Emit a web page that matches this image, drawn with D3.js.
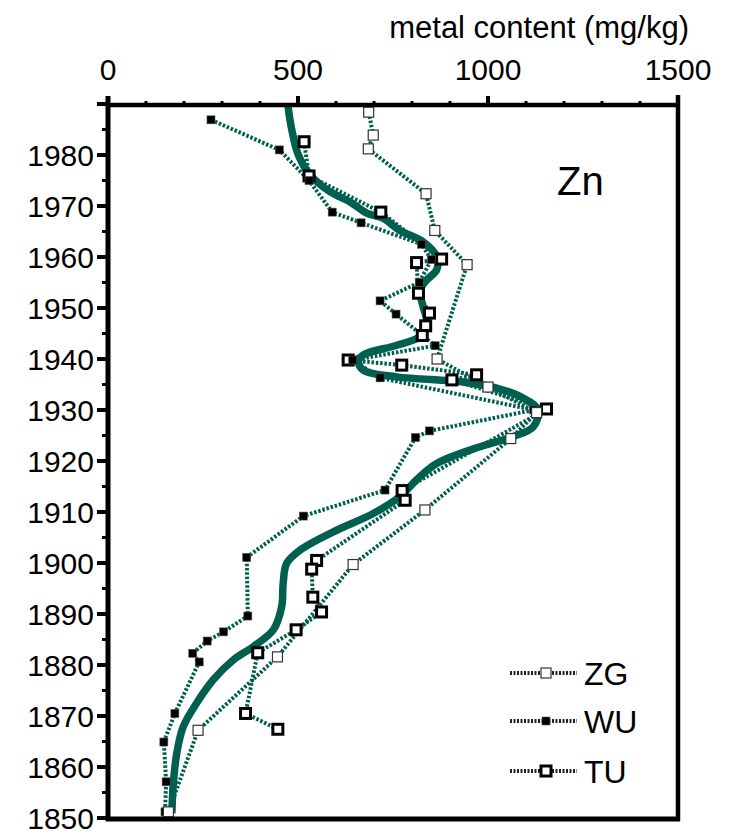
<!DOCTYPE html>
<html><head><meta charset="utf-8">
<script src="https://cdn.jsdelivr.net/npm/d3@7"></script>
<style>body{margin:0;background:#fff;} text{font-family:"Liberation Sans",Arial,Helvetica,sans-serif;fill:#000;}</style>
</head><body>
<svg id="chart" width="734" height="831"></svg>
<script>
// ---- data ----
const xTicks = [0, 500, 1000, 1500];
const yTicks = [1850, 1860, 1870, 1880, 1890, 1900, 1910, 1920, 1930, 1940, 1950, 1960, 1970, 1980];
const seriesNames = ["ZG", "WU", "TU"];

const zgYear = [1988.4, 1983.9, 1981.2, 1972.4, 1965.2, 1958.5, 1940.0, 1934.5, 1929.5, 1924.4, 1910.4, 1899.7, 1881.6, 1867.2, 1851.2];
const zgVal  = [686, 698, 685, 837, 860, 945, 866, 1000, 1128, 1060, 834, 645, 446, 237, 159];

const wuYear = [1986.9, 1981.0, 1975.0, 1968.8, 1966.7, 1962.5, 1959.5, 1955.0, 1951.4, 1948.8, 1942.6, 1939.8, 1936.3, 1930.0, 1925.9, 1924.6, 1914.3, 1909.2, 1901.1, 1889.6, 1886.5, 1884.7, 1882.3, 1880.6, 1870.5, 1864.9, 1857.1, 1851.2];
const wuVal  = [271, 451, 529, 590, 666, 825, 851, 819, 716, 758, 861, 644, 716, 1120, 846, 809, 729, 514, 365, 368, 304, 261, 223, 240, 176, 147, 153, 150];

const tuYear = [1982.6, 1975.9, 1968.8, 1959.6, 1958.9, 1952.9, 1949.0, 1946.5, 1944.6, 1939.8, 1938.8, 1936.9, 1935.9, 1930.2, 1914.2, 1912.3, 1900.5, 1898.8, 1893.3, 1890.4, 1886.9, 1882.4, 1870.5, 1867.4];
const tuVal  = [516, 529, 718, 878, 812, 817, 846, 836, 827, 632, 773, 970, 905, 1154, 774, 782, 549, 536, 539, 562, 495, 394, 362, 447];

const meanYear = [1990, 1985.2, 1980.0, 1976.1, 1972.8, 1970.8, 1968.6, 1967.6, 1965.2, 1963.0, 1960.1, 1957.5, 1955.5, 1953.5, 1950.3, 1947.1, 1944.4, 1942.7, 1940.8, 1939.5, 1937.8, 1936.5, 1935.5, 1934.3, 1932.3, 1930.0, 1926.7, 1924.8, 1922.8, 1919.5, 1916.3, 1913.0, 1909.7, 1906.1, 1902.5, 1899.9, 1896.0, 1891.4, 1886.9, 1883.6, 1881.0, 1877.1, 1872.5, 1867.9, 1862.7, 1856.8, 1850.9];
const meanVal  = [473, 483, 501, 532, 584, 637, 681, 724, 768, 829, 865, 865, 839, 821, 829, 839, 821, 760, 672, 659, 672, 760, 935, 1023, 1093, 1132, 1119, 1067, 979, 865, 812, 768, 698, 593, 505, 470, 461, 457, 435, 382, 330, 277, 233, 198, 181, 172, 168];

// ---- drawing ----
const svg = d3.select("#chart");
const x = d3.scaleLinear().domain([0, 1500]).range([108, 678]);
const y = d3.scaleLinear().domain([1850, 1990]).range([818, 104]);
const teal = "#00604f";

const zip = (ys, vs) => ys.map((yr, i) => ({year: yr, val: vs[i]}));

// smooth mean curve
const smooth = d3.line().x(d => x(d.val)).y(d => y(d.year)).curve(d3.curveCatmullRom.alpha(0.5));
svg.append("path").datum(zip(meanYear, meanVal))
  .attr("d", smooth)
  .attr("fill", "none").attr("stroke", teal).attr("stroke-width", 7.5).attr("stroke-linejoin", "round");

const straight = d3.line().x(d => x(d.val)).y(d => y(d.year));
const series = {ZG: zip(zgYear, zgVal), WU: zip(wuYear, wuVal), TU: zip(tuYear, tuVal)};
seriesNames.forEach(n => {
  svg.append("path").datum(series[n]).attr("d", straight)
    .attr("fill", "none").attr("stroke", teal).attr("stroke-width", 4)
    .attr("stroke-dasharray", "2.5,1.8");
});

function marker(g, name, cx, cy) {
  if (name === "ZG") {
    g.append("rect").attr("x", cx - 5).attr("y", cy - 5).attr("width", 10).attr("height", 10)
      .attr("fill", "#fff").attr("stroke", "#333").attr("stroke-width", 1.2);
  } else if (name === "WU") {
    g.append("rect").attr("x", cx - 4).attr("y", cy - 4).attr("width", 8).attr("height", 8)
      .attr("fill", "#000").attr("stroke", "#555").attr("stroke-width", 0.6);
  } else {
    g.append("rect").attr("x", cx - 5).attr("y", cy - 5).attr("width", 10).attr("height", 10)
      .attr("fill", "#fff").attr("stroke", "#000").attr("stroke-width", 3);
  }
}
const mg = svg.append("g");
["TU", "WU", "ZG"].forEach(n => series[n].forEach(d => marker(mg, n, x(d.val), y(d.year))));

// axes
const axisG = svg.append("g");
// top axis ticks (outward = up), every 100
x.ticks(15).forEach(v => {
  const major = v % 500 === 0;
  axisG.append("line").attr("x1", x(v)).attr("x2", x(v)).attr("y1", 105).attr("y2", major ? 96 : 101)
    .attr("stroke", "#000").attr("stroke-width", major ? 4 : 3);
});
axisG.append("line").attr("x1", 106).attr("x2", 680).attr("y1", 105).attr("y2", 105).attr("stroke", "#000").attr("stroke-width", 4.5);
xTicks.forEach(v => axisG.append("text").attr("x", x(v)).attr("y", 80).attr("text-anchor", "middle")
  .attr("font-size", 30).text(v));
axisG.append("text").attr("x", 689).attr("y", 38).attr("text-anchor", "end").attr("font-size", 31)
  .text("metal content (mg/kg)");

// left axis ticks, every 5 years
y.ticks(28).forEach(v => {
  const major = v % 10 === 0;
  axisG.append("line").attr("x1", 108).attr("x2", major ? 97 : 102).attr("y1", y(v)).attr("y2", y(v))
    .attr("stroke", "#000").attr("stroke-width", major ? 4 : 3);
});
axisG.append("line").attr("x1", 108).attr("x2", 108).attr("y1", 96).attr("y2", 821).attr("stroke", "#000").attr("stroke-width", 5);
yTicks.forEach(v => axisG.append("text").attr("x", 94).attr("y", y(v)).attr("dy", "0.36em")
  .attr("text-anchor", "end").attr("font-size", 30).text(v));
// right and bottom frame
axisG.append("line").attr("x1", 678).attr("x2", 678).attr("y1", 95).attr("y2", 821).attr("stroke", "#000").attr("stroke-width", 4.5);
axisG.append("line").attr("x1", 106).attr("x2", 680).attr("y1", 819).attr("y2", 819).attr("stroke", "#000").attr("stroke-width", 5);

// element label
svg.append("text").attr("x", 557).attr("y", 195).attr("font-size", 40).text("Zn");

// legend
const legY = [673, 721, 771];
seriesNames.forEach((n, i) => {
  svg.append("line").attr("x1", 510).attr("x2", 577).attr("y1", legY[i]).attr("y2", legY[i])
    .attr("stroke", "#222").attr("stroke-width", 4).attr("stroke-dasharray", "2,1.5");
  marker(svg, n, 546, legY[i]);
  svg.append("text").attr("x", 584).attr("y", legY[i]).attr("dy", "0.36em").attr("font-size", 32).text(n);
});
</script>
</body></html>
